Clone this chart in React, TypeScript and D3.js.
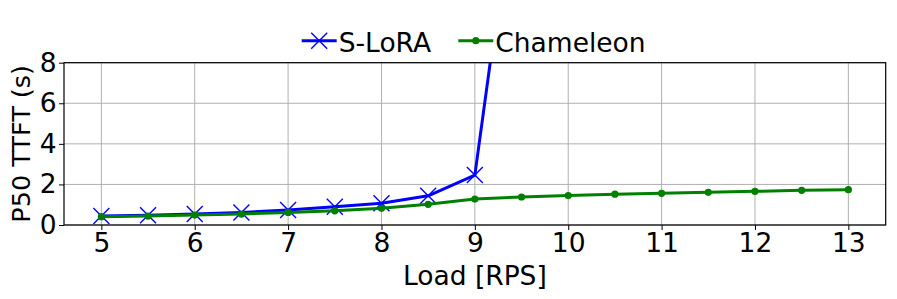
import React, { useRef, useEffect } from 'react';
import * as d3 from 'd3';

// data
const sloraLoads = [5, 5.5, 6, 6.5, 7, 7.5, 8, 8.5, 9, 9.5];
const sloraTtft = [0.44, 0.48, 0.54, 0.62, 0.74, 0.9, 1.07, 1.44, 2.46, 19.3];
const chameleonLoads = [5, 5.5, 6, 6.5, 7, 7.5, 8, 8.5, 9, 9.5, 10, 10.5, 11, 11.5, 12, 12.5, 13];
const chameleonTtft = [0.41, 0.44, 0.49, 0.54, 0.62, 0.7, 0.82, 1.02, 1.28, 1.38, 1.45, 1.52, 1.56, 1.61, 1.66, 1.71, 1.74];
const xTicks = [5, 6, 7, 8, 9, 10, 11, 12, 13];
const yTicks = [0, 2, 4, 6, 8];

const W = 897;
const H = 299;
const FONT = 'DejaVu Sans, sans-serif';

const App = () => {
  const ref = useRef<SVGSVGElement>(null);

  useEffect(() => {
    const svg = d3.select(ref.current);
    svg.selectAll('*').remove(); // 清除之前的绘图

    const left = 64, right = 885.7, top = 62.7, bottom = 225;
    const x = d3.scaleLinear().domain([4.6, 13.4]).range([left, right]);
    const y = d3.scaleLinear().domain([0, 8]).range([bottom, top]);

    svg.append('rect').attr('width', W).attr('height', H).attr('fill', 'white');

    svg.append('clipPath').attr('id', 'plot-clip')
      .append('rect')
        .attr('x', left).attr('y', top)
        .attr('width', right - left).attr('height', bottom - top);

    // grid
    const grid = svg.append('g').attr('stroke', '#b0b0b0').attr('stroke-width', 1);
    grid.selectAll('line.gx').data(xTicks).enter().append('line')
      .attr('x1', d => x(d)).attr('x2', d => x(d))
      .attr('y1', top).attr('y2', bottom);
    grid.selectAll('line.gy').data(yTicks).enter().append('line')
      .attr('x1', left).attr('x2', right)
      .attr('y1', d => y(d)).attr('y2', d => y(d));

    // axes
    const xAxis = svg.append('g')
      .attr('transform', `translate(0,${bottom})`)
      .call(d3.axisBottom(x).tickValues(xTicks).tickSize(5).tickPadding(3).tickFormat(d3.format('d')));
    const yAxis = svg.append('g')
      .attr('transform', `translate(${left},0)`)
      .call(d3.axisLeft(y).tickValues(yTicks).tickSize(5).tickPadding(2.5).tickFormat(d3.format('d')));
    [xAxis, yAxis].forEach(a => {
      a.select('.domain').remove();
      a.selectAll('text').attr('font-family', FONT).attr('font-size', 26.5).attr('fill', 'black');
      a.selectAll('line').attr('stroke', 'black').attr('stroke-width', 1);
    });

    // frame
    svg.append('rect')
      .attr('x', left).attr('y', top)
      .attr('width', right - left).attr('height', bottom - top)
      .attr('fill', 'none').attr('stroke', 'black').attr('stroke-width', 1.2);

    const plot = svg.append('g').attr('clip-path', 'url(#plot-clip)');
    const line = d3.line<[number, number]>().x(d => x(d[0])).y(d => y(d[1]));

    const slora: [number, number][] = sloraLoads.map((l, i) => [l, sloraTtft[i]]);
    const cham: [number, number][] = chameleonLoads.map((l, i) => [l, chameleonTtft[i]]);

    plot.append('path').datum(slora)
      .attr('d', line).attr('fill', 'none')
      .attr('stroke', '#0000ff').attr('stroke-width', 3).attr('stroke-linejoin', 'round');
    const m = 8;
    plot.selectAll('path.xm').data(slora).enter().append('path')
      .attr('d', d => `M${x(d[0]) - m},${y(d[1]) - m}L${x(d[0]) + m},${y(d[1]) + m}M${x(d[0]) - m},${y(d[1]) + m}L${x(d[0]) + m},${y(d[1]) - m}`)
      .attr('stroke', '#0000ff').attr('stroke-width', 1.4).attr('fill', 'none');

    plot.append('path').datum(cham)
      .attr('d', line).attr('fill', 'none')
      .attr('stroke', '#008000').attr('stroke-width', 3).attr('stroke-linejoin', 'round');
    plot.selectAll('circle').data(cham).enter().append('circle')
      .attr('cx', d => x(d[0])).attr('cy', d => y(d[1])).attr('r', 3.6)
      .attr('fill', '#008000');

    // axis labels
    svg.append('text')
      .attr('x', (left + right) / 2).attr('y', 285)
      .attr('text-anchor', 'middle')
      .attr('font-family', FONT).attr('font-size', 26.5)
      .text('Load [RPS]');
    svg.append('text')
      .attr('transform', `translate(30,${(top + bottom) / 2}) rotate(-90)`)
      .attr('text-anchor', 'middle')
      .attr('font-family', FONT).attr('font-size', 25.5)
      .text('P50 TTFT (s)');

    // legend
    const legend = [
      { name: 'S-LoRA', color: '#0000ff', x0: 301.7, marker: 'x' },
      { name: 'Chameleon', color: '#008000', x0: 458.3, marker: 'o' },
    ];
    const lg = svg.selectAll('g.legend').data(legend).enter().append('g')
      .attr('transform', d => `translate(${d.x0},40.7)`);
    lg.append('line').attr('x1', 0).attr('x2', 35).attr('y1', 0).attr('y2', 0)
      .attr('stroke', d => d.color).attr('stroke-width', 3);
    lg.filter(d => d.marker === 'x').append('path')
      .attr('d', `M${17.5 - m},${-m}L${17.5 + m},${m}M${17.5 - m},${m}L${17.5 + m},${-m}`)
      .attr('stroke', d => d.color).attr('stroke-width', 1.4);
    lg.filter(d => d.marker === 'o').append('circle')
      .attr('cx', 17.5).attr('cy', 0).attr('r', 3.6).attr('fill', d => d.color);
    lg.append('text').attr('x', 37).attr('y', 10.8)
      .attr('font-family', FONT).attr('font-size', 26.5)
      .text(d => d.name);
  }, []);

  return (
    <svg ref={ref} width={W} height={H}
      style={{ position: 'absolute', left: 0, top: 0, display: 'block' }} />
  );
};

export default App;
